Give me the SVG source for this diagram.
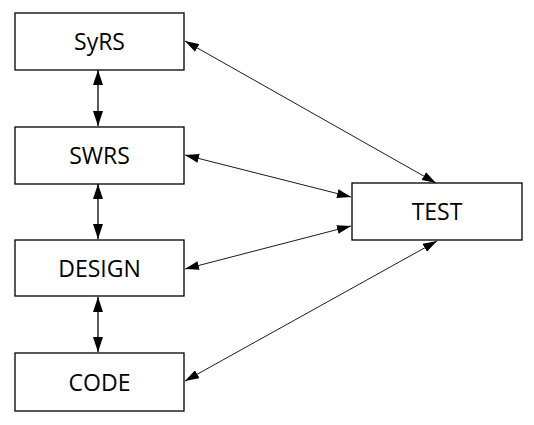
<svg xmlns="http://www.w3.org/2000/svg" width="534" height="425" viewBox="0 0 534 425">
<style>
.box{fill:#fff;stroke:#000;stroke-width:1.3}
.lbl{font-family:"Open Sans","Noto Sans",sans-serif;font-size:23px;fill:#000;text-anchor:middle;dominant-baseline:central}
.c{stroke:#000;stroke-width:0.9;fill:none}
.v{stroke:#000;stroke-width:1.3;fill:none}
</style>
<defs>
<marker id="ah" viewBox="0 0 14 9" refX="14" refY="4.5" markerWidth="14" markerHeight="9" markerUnits="userSpaceOnUse" orient="auto-start-reverse">
<path d="M0,0 L14,4.5 L0,9 Z" fill="#000"/>
</marker>
<marker id="av" viewBox="0 0 15 10" refX="15" refY="5" markerWidth="15" markerHeight="10" markerUnits="userSpaceOnUse" orient="auto-start-reverse">
<path d="M0,0 L15,5 L0,10 Z" fill="#000"/>
</marker>
</defs>
<rect width="534" height="425" fill="#fff"/>
<g id="connectors">
<line class="v" x1="98" y1="70" x2="98" y2="126" marker-start="url(#av)" marker-end="url(#av)"/>
<line class="v" x1="98" y1="184" x2="98" y2="239" marker-start="url(#av)" marker-end="url(#av)"/>
<line class="v" x1="98" y1="297" x2="98" y2="352" marker-start="url(#av)" marker-end="url(#av)"/>
<line class="c" x1="185" y1="41" x2="436" y2="183" marker-start="url(#ah)" marker-end="url(#ah)"/>
<line class="c" x1="185" y1="155" x2="351" y2="197" marker-start="url(#ah)" marker-end="url(#ah)"/>
<line class="c" x1="185" y1="269" x2="351" y2="226" marker-start="url(#ah)" marker-end="url(#ah)"/>
<line class="c" x1="185" y1="381" x2="437" y2="241" marker-start="url(#ah)" marker-end="url(#ah)"/>
</g>
<g id="syrs"><rect class="box" x="15" y="13" width="169" height="57"/><text class="lbl" x="99.5" y="41">SyRS</text></g>
<g id="swrs"><rect class="box" x="15" y="127" width="169" height="57"/><text class="lbl" x="99.5" y="155">SWRS</text></g>
<g id="design"><rect class="box" x="15" y="240" width="169" height="56"/><text class="lbl" x="99.5" y="268">DESIGN</text></g>
<g id="code"><rect class="box" x="15" y="353" width="169" height="58"/><text class="lbl" x="99.5" y="382">CODE</text></g>
<g id="test"><rect class="box" x="352" y="183" width="170" height="57"/><text class="lbl" x="437" y="211">TEST</text></g>
</svg>
